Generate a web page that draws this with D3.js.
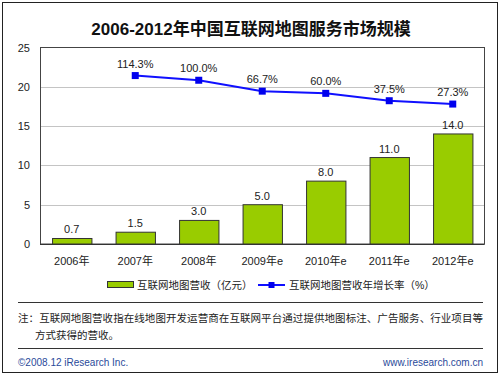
<!DOCTYPE html>
<html><head><meta charset="utf-8">
<script src="https://cdn.jsdelivr.net/npm/d3@7"></script>
<style>
body{margin:0;background:#fff;}
svg{display:block;}
text{font-family:"Liberation Sans","Noto Sans CJK SC",sans-serif;}
</style></head>
<body>
<script>
const title = "2006-2012年中国互联网地图服务市场规模";
const categories = ["2006年","2007年","2008年","2009年e","2010年e","2011年e","2012年e"];
const revenue = [0.7,1.5,3.0,5.0,8.0,11.0,14.0];
const growthYears = ["2007年","2008年","2009年e","2010年e","2011年e","2012年e"];
const growth = [114.3,100.0,66.7,60.0,37.5,27.3];
const yTicks = [0,5,10,15,20,25];
const legendBar = "互联网地图营收（亿元）";
const legendLine = "互联网地图营收年增长率（%）";
const note1 = "注：互联网地图营收指在线地图开发运营商在互联网平台通过提供地图标注、广告服务、行业项目等";
const note2 = "方式获得的营收。";
const footLeft = "©2008.12 iResearch Inc.";
const footRight = "www.iresearch.com.cn";

const W=500,H=379;
const svg=d3.select("body").append("svg").attr("width",W).attr("height",H);
const pl=40,pr=484.5,pt=47.5,pb=244;

svg.append("rect").attr("x",2.5).attr("y",2.5).attr("width",495).attr("height",370)
  .attr("fill","#fff").attr("stroke","#222").attr("stroke-width",1);

svg.append("text").attr("x",251).attr("y",35).attr("text-anchor","middle")
  .attr("font-size",17).attr("font-weight","bold").attr("fill","#111").text(title);

const x=d3.scaleBand().domain(categories).range([pl,pr]).paddingInner(0.38).paddingOuter(0.19);
const y=d3.scaleLinear().domain([0,25]).range([pb,pt]);
const y2=d3.scaleLinear().domain([-400,200]).range([pb,pt]);

// gridlines
svg.append("g").selectAll("line").data(yTicks.filter(d=>d>0&&d<25)).join("line")
  .attr("x1",pl).attr("x2",pr).attr("y1",d=>Math.round(y(d))+0.5).attr("y2",d=>Math.round(y(d))+0.5)
  .attr("stroke","#c4c4c4").attr("stroke-width",1);

// plot border
svg.append("rect").attr("x",pl+0.5).attr("y",pt).attr("width",pr-pl-0.5).attr("height",pb-pt)
  .attr("fill","none").attr("stroke","#444").attr("stroke-width",1);

// y axis labels
const yAxis=d3.axisLeft(y).tickValues(yTicks).tickSize(0).tickPadding(10);
const ga=svg.append("g").attr("transform",`translate(${pl},0)`).call(yAxis);
ga.select(".domain").remove();
ga.selectAll("text").attr("font-size",11).attr("fill","#222").attr("font-family","Liberation Sans, sans-serif");

// bars
svg.append("g").selectAll("rect").data(revenue).join("rect")
  .attr("x",(d,i)=>x(categories[i])+0.5).attr("y",d=>y(d))
  .attr("width",x.bandwidth()).attr("height",d=>pb-y(d))
  .attr("fill","#99cc00").attr("stroke","#333").attr("stroke-width",1);
svg.append("g").selectAll("text").data(revenue).join("text")
  .attr("x",(d,i)=>x(categories[i])+x.bandwidth()/2).attr("y",d=>y(d)-5)
  .attr("text-anchor","middle").attr("font-size",11).attr("fill","#222")
  .text(d=>d.toFixed(1));

// bottom axis
svg.append("line").attr("x1",pl).attr("x2",pr).attr("y1",pb+0.5).attr("y2",pb+0.5).attr("stroke","#333");
const xAxis=d3.axisBottom(x).tickSize(0).tickPadding(13);
const gx=svg.append("g").attr("transform",`translate(0,${pb})`).call(xAxis);
gx.select(".domain").remove();
gx.selectAll("text").attr("font-size",11).attr("fill","#222");

// line
const cx=c=>x(c)+x.bandwidth()/2;
const line=d3.line().x((d,i)=>cx(growthYears[i])).y(d=>y2(d));
svg.append("path").datum(growth).attr("d",line).attr("fill","none")
  .attr("stroke","#1010ff").attr("stroke-width",2);
svg.append("g").selectAll("rect").data(growth).join("rect")
  .attr("x",(d,i)=>cx(growthYears[i])-3.5).attr("y",d=>y2(d)-3.5)
  .attr("width",7).attr("height",7).attr("fill","#0000ee");
svg.append("g").selectAll("text").data(growth).join("text")
  .attr("x",(d,i)=>cx(growthYears[i])).attr("y",d=>y2(d)-8)
  .attr("text-anchor","middle").attr("font-size",11).attr("fill","#222")
  .text(d=>d.toFixed(1)+"%");

// legend
const ly=285;
svg.append("rect").attr("x",107.5).attr("y",ly-3.5).attr("width",26).attr("height",6)
  .attr("fill","#99cc00").attr("stroke","#333").attr("stroke-width",1);
svg.append("text").attr("x",137).attr("y",ly+4).attr("font-size",10.5).attr("fill","#222").text(legendBar);
svg.append("line").attr("x1",258).attr("x2",285).attr("y1",ly).attr("y2",ly).attr("stroke","#1010ff").attr("stroke-width",2);
svg.append("rect").attr("x",268.5).attr("y",ly-3).attr("width",6).attr("height",6).attr("fill","#0000ee");
svg.append("text").attr("x",289).attr("y",ly+4).attr("font-size",10.5).attr("fill","#222").text(legendLine);

// rules and notes
svg.append("line").attr("x1",18).attr("x2",483).attr("y1",302.5).attr("y2",302.5).attr("stroke","#333");
svg.append("text").attr("x",18).attr("y",322).attr("font-size",10.5).attr("fill","#222")
  .attr("textLength",465).attr("lengthAdjust","spacing").text(note1);
svg.append("text").attr("x",35).attr("y",339).attr("font-size",10.5).attr("fill","#222").text(note2);
svg.append("line").attr("x1",18).attr("x2",483).attr("y1",348.5).attr("y2",348.5).attr("stroke","#333");
svg.append("text").attr("x",18).attr("y",366).attr("font-size",10).attr("fill","#2a4a9a").text(footLeft);
svg.append("text").attr("x",483).attr("y",366).attr("text-anchor","end").attr("font-size",10).attr("fill","#2a4a9a").text(footRight);
</script>
</body></html>
